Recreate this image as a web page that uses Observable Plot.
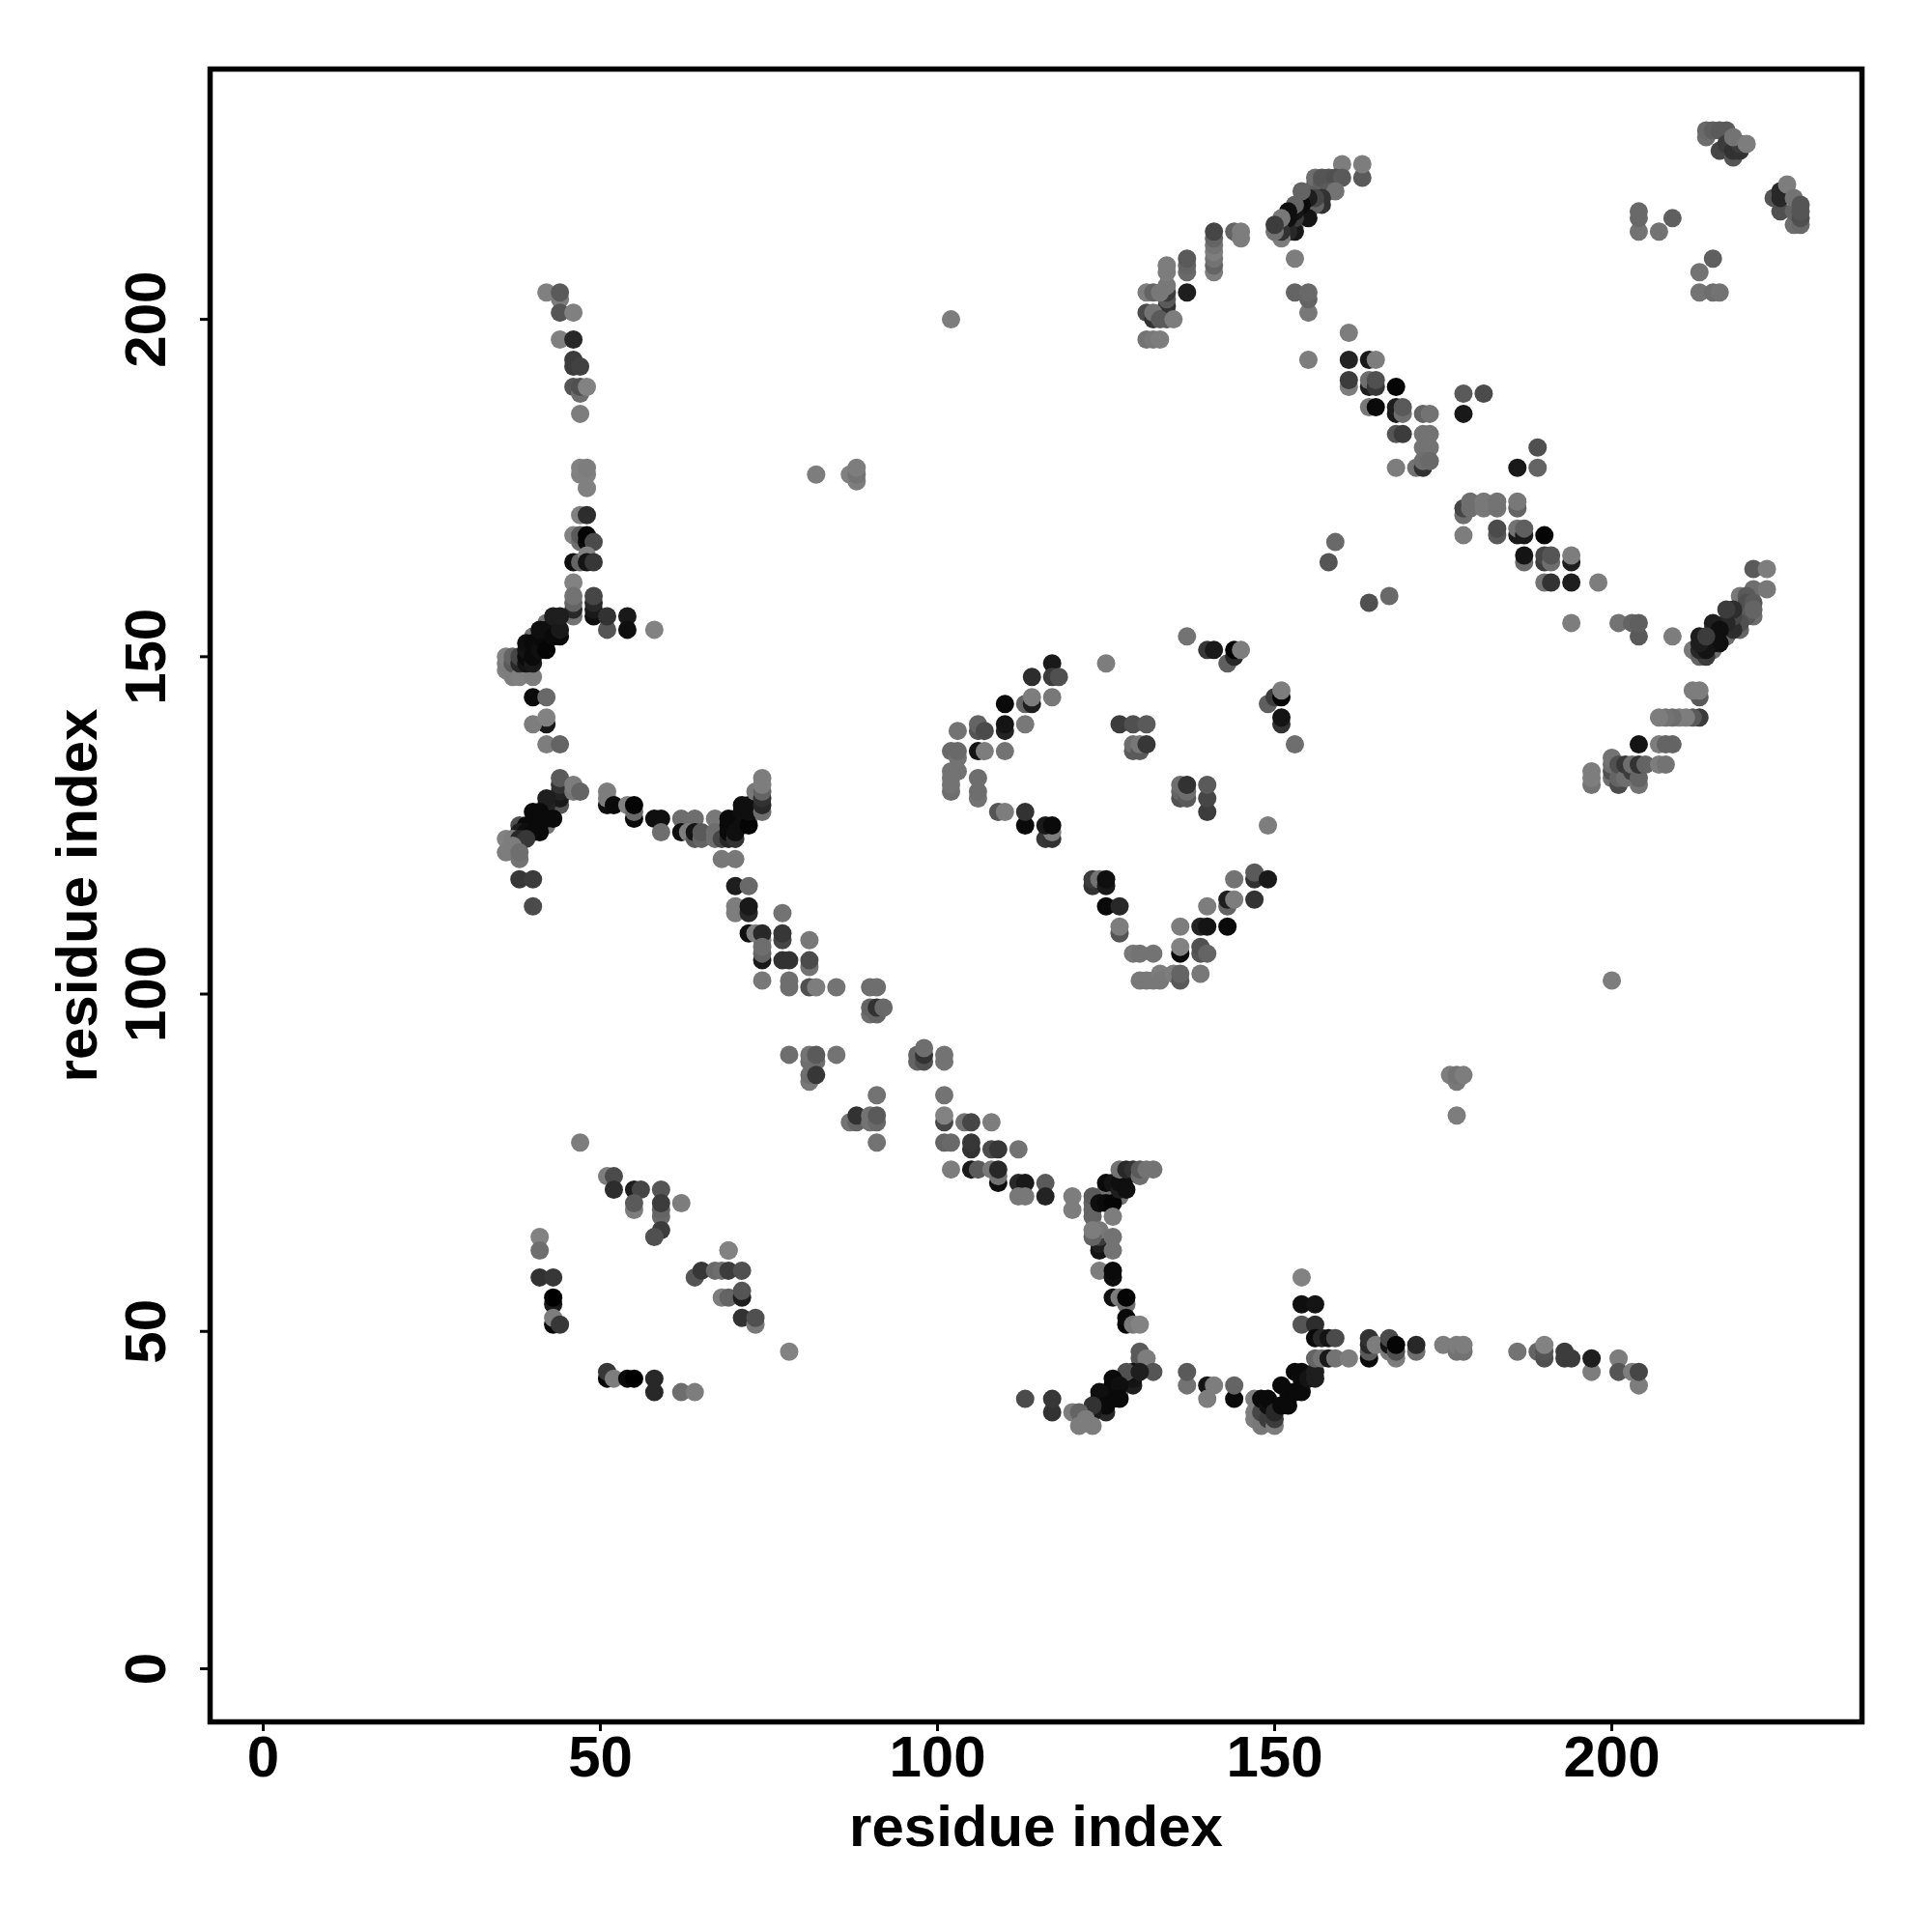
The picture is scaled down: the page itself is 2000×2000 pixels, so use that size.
<!DOCTYPE html>
<html><head><meta charset="utf-8">
<script src="https://cdn.jsdelivr.net/npm/d3@7"></script>
<script src="https://cdn.jsdelivr.net/npm/@observablehq/plot@0.6"></script>
<style>html,body{margin:0;padding:0;background:#fff}</style>
</head><body><div id="chart"></div>
<script>
// Each contact: [residue x, residue y, grey level]
const underlay = [[42,155,115],[42,153,115],[40,153,115],[40,151,115],[40,125,115],[42,127,115],[42,125,115],[70,126,115],[70,125,115],[72,126,115],[125,41,115],[127,41,115],[128,43,115],[124,39,115],[127,70,115],[125,71,115],[150,39,115],[152,40,115],[154,42,115],[214,152,115],[216,153,115],[153,214,115],[155,216,115],[155,217,115]];
const strandTop = [[42,204,128],[44,203,125],[44,204,90],[44,201,85],[46,201,128],[44,197,128],[46,197,40],[46,194,60],[46,193,60],[47,193,65],[46,190,85],[47,189,110],[47,190,80],[48,190,130],[47,186,125],[47,177,128],[47,178,130],[48,177,128],[48,178,125],[48,175,128],[82,177,125],[87,177,128],[88,176,125],[88,177,115],[88,178,125],[47,171,128],[48,171,45],[46,168,130],[47,167,110],[47,168,90],[48,167,10],[48,168,5],[49,167,75],[46,164,15],[47,164,100],[48,165,130],[48,164,20],[49,164,55],[46,161,130],[46,156,115],[46,157,40],[46,158,100],[46,159,115],[49,156,15],[49,157,25],[49,158,40],[49,159,70],[51,154,85],[51,156,50],[54,156,25],[54,154,15],[58,154,130]];
const bandUpperLeft = [[36,148,128],[36,149,125],[36,150,130],[37,147,125],[37,148,125],[37,149,90],[37,150,100],[38,147,128],[38,149,40],[38,150,70],[40,147,125],[39,149,20],[39,150,10],[39,151,20],[39,152,15],[40,149,25],[40,150,10],[40,152,10],[41,151,15],[41,153,10],[41,154,15],[42,151,5],[42,154,15],[43,153,10],[43,156,30],[44,153,10],[44,154,25],[44,156,30],[40,144,10],[42,144,105],[42,140,25],[40,140,125],[42,141,130],[42,137,125],[44,137,100]];
const bandMidLeft = [[44,128,85],[44,129,25],[44,130,35],[44,131,50],[44,132,90],[46,130,120],[46,131,125],[47,130,100],[42,128,35],[42,129,30],[40,127,10],[41,127,10],[41,126,10],[42,126,10],[43,126,10],[38,125,80],[39,125,10],[38,124,30],[39,124,15],[40,124,10],[41,124,10],[36,123,130],[37,123,125],[38,123,40],[39,123,55],[37,122,125],[36,121,125],[38,120,115],[38,121,110],[38,117,55],[40,117,60],[40,113,75]];
const bandMidRight = [[51,128,15],[51,129,125],[51,130,125],[52,128,10],[54,128,130],[55,126,10],[55,127,105],[55,128,5],[58,126,15],[59,126,15],[59,124,110],[62,126,110],[64,126,110],[62,124,15],[63,124,125],[64,123,90],[64,124,20],[65,123,100],[65,124,90],[67,126,120],[67,123,110],[67,124,110],[68,123,70],[69,123,40],[69,124,10],[69,125,10],[69,126,10],[70,123,50],[70,124,15],[71,125,15],[71,127,15],[71,128,15],[72,125,5],[72,127,15],[72,128,15],[73,130,120],[74,127,110],[74,128,40],[74,129,50],[74,130,100],[74,131,125],[74,132,125],[68,120,120],[70,120,120],[70,116,30],[72,116,105]];
const diagonalUpper = [[70,112,125],[70,113,125],[72,112,40],[72,113,25],[72,109,15],[73,109,125],[74,108,125],[74,109,40],[77,112,115],[77,108,70],[77,109,55],[81,108,120],[74,105,25],[74,106,100],[74,107,110],[77,105,50],[78,105,50],[81,104,115],[81,105,75],[74,102,120],[78,101,110],[78,102,110],[81,101,80],[82,101,125],[85,101,115],[90,101,110],[91,101,110],[90,97,110],[90,98,100],[91,97,100],[91,98,50],[92,98,105]];
const diagonalMiddle = [[78,91,110],[81,87,120],[81,88,110],[81,90,110],[81,91,115],[82,90,110],[82,91,90],[82,88,55],[85,91,115],[97,90,100],[97,91,100],[98,90,80],[98,91,50],[98,92,110],[101,90,115],[101,91,115],[91,85,115],[101,85,115],[87,81,115],[88,81,100],[88,82,50],[90,81,115],[90,82,115],[91,81,105],[91,82,90],[91,78,115],[101,81,70],[101,82,130],[104,81,115],[105,81,70],[108,81,125],[101,78,100],[102,78,105],[105,77,50],[105,78,55],[108,77,75],[109,77,55],[112,77,115],[102,74,125],[105,74,25],[106,74,90],[108,74,120],[109,72,15],[109,73,115],[109,74,40],[112,72,40],[113,72,25],[112,70,120],[113,70,120],[116,72,90],[116,70,35],[120,70,125],[120,68,125],[62,69,125],[69,62,125],[47,78,125]];
const sheetLowerLeft = [[51,73,125],[52,73,75],[52,71,45],[55,71,30],[56,71,70],[55,68,125],[55,69,90],[59,71,85],[59,67,105],[59,68,100],[59,69,60],[59,65,60],[58,64,80],[41,64,130],[41,62,110],[41,58,50],[43,58,55],[43,54,25],[43,55,0],[43,51,5],[43,52,125],[44,51,55],[69,62,130],[64,58,85],[65,59,55],[67,59,105],[68,59,110],[69,59,60],[71,59,80],[68,55,125],[69,55,100],[71,55,30],[71,56,85],[71,52,50],[73,51,120],[73,52,80],[78,47,130],[51,43,5],[51,44,55],[52,43,125],[54,43,10],[55,43,0],[58,43,40],[58,41,40],[62,41,110],[64,41,125]];
const helixLowerCenter = [[123,67,100],[123,68,100],[123,69,100],[123,70,90],[124,69,15],[124,62,20],[124,63,30],[124,64,60],[124,65,120],[123,64,100],[123,65,125],[125,69,10],[125,72,10],[126,69,5],[126,72,20],[126,67,125],[126,62,115],[126,64,115],[127,71,30],[127,72,15],[128,71,15],[128,73,15],[127,74,115],[128,74,40],[129,74,50],[130,73,110],[130,74,90],[131,74,115],[132,74,115],[124,59,125],[126,58,15],[126,59,10],[126,55,15],[127,55,125],[128,54,110],[128,55,5],[128,51,5],[128,52,10],[129,51,120],[130,51,130],[130,46,90],[130,47,90],[131,46,125],[132,44,85],[129,42,30],[129,43,20],[129,44,15],[128,44,80],[130,44,30],[126,42,10],[126,43,10],[127,42,15],[126,40,10],[127,40,10],[124,40,10],[124,41,15],[125,38,40],[125,39,10],[123,38,25],[123,39,50],[120,38,125],[121,38,100],[121,36,125],[122,37,125],[123,36,125],[113,40,75],[117,38,50],[117,40,55],[137,42,115],[137,44,90],[140,42,20],[140,40,125],[141,42,125],[144,40,10],[144,42,100]];
const helixLowerRight = [[147,37,125],[147,38,125],[147,40,125],[148,36,120],[148,38,70],[148,40,10],[149,37,60],[149,39,15],[149,40,10],[150,36,125],[150,37,60],[150,38,40],[151,39,10],[151,42,10],[152,39,10],[152,41,10],[153,41,10],[153,44,10],[154,41,10],[154,43,10],[154,44,10],[155,43,20],[156,43,30],[156,44,30],[154,58,130],[154,54,15],[156,54,20],[154,51,85],[156,51,45],[156,49,10],[157,49,40],[158,49,20],[159,49,75],[156,46,100],[157,46,115],[158,46,25],[159,46,115],[161,46,125],[164,46,10],[164,47,90],[164,48,40],[164,49,50],[165,48,125],[167,47,120],[167,48,20],[167,49,75],[168,46,125],[168,47,80],[168,48,5],[171,47,110],[171,48,40],[175,48,125],[177,47,115],[177,48,125],[178,47,115],[178,48,125],[186,47,115],[189,47,100],[190,46,80],[190,47,85],[190,48,130],[193,46,60],[193,47,60],[194,46,60],[197,44,125],[197,46,30],[201,46,125],[201,44,85],[203,44,125],[204,42,125],[204,44,70],[200,102,125],[102,200,125],[176,88,125],[177,87,120],[177,88,115],[178,88,125],[177,82,125]];
const ringCenter = [[137,153,115],[140,151,55],[141,151,25],[143,149,95],[144,150,40],[144,151,5],[145,151,125],[125,149,125],[117,149,25],[114,147,45],[117,147,60],[118,147,80],[117,144,120],[113,143,100],[114,143,30],[114,144,125],[110,143,10],[110,139,35],[110,140,20],[113,140,120],[106,139,85],[106,140,100],[107,139,75],[103,139,115],[102,136,105],[103,135,115],[103,136,105],[102,130,110],[102,131,115],[102,132,115],[102,133,115],[103,133,115],[106,136,20],[107,136,125],[110,136,115],[106,129,115],[106,130,110],[106,132,110],[109,127,85],[110,127,125],[113,125,10],[113,127,50],[116,123,55],[117,123,50],[117,124,125],[116,125,25],[117,125,10],[127,140,60],[129,140,80],[131,140,90],[129,136,90],[129,137,110],[130,136,90],[130,137,120],[131,137,55],[149,143,95],[150,144,60],[151,144,5],[151,145,125],[151,140,50],[151,141,20],[153,137,110],[136,129,80],[136,130,100],[136,131,110],[137,129,90],[137,130,110],[137,131,50],[140,127,60],[140,129,70],[140,131,90],[149,125,125],[123,116,50],[123,117,60],[124,117,115],[125,116,25],[125,117,15],[125,113,10],[127,113,40],[127,109,85],[127,110,125],[129,106,120],[130,106,115],[132,106,115],[130,102,120],[131,102,120],[132,102,120],[133,103,125],[133,102,120],[135,103,125],[136,102,90],[136,103,100],[139,103,120],[136,106,10],[136,107,130],[136,110,125],[139,110,35],[140,110,20],[143,110,10],[139,106,85],[139,107,80],[140,106,100],[140,113,125],[143,113,100],[143,114,30],[144,114,125],[144,117,115],[147,114,50],[147,117,50],[147,118,90],[149,117,25]];
const helixUpperCenter = [[160,223,125],[163,221,90],[163,223,125],[156,220,95],[156,221,110],[157,220,95],[157,221,85],[158,221,85],[159,221,80],[160,221,90],[158,219,90],[159,219,115],[157,217,50],[157,218,50],[156,217,100],[156,218,70],[155,215,20],[155,218,30],[154,217,10],[154,219,100],[153,213,25],[153,215,60],[153,216,20],[153,217,100],[152,213,40],[152,215,15],[152,216,15],[151,212,125],[151,213,50],[151,215,120],[150,213,115],[150,214,60],[153,209,125],[153,204,100],[155,201,120],[155,203,100],[155,204,105],[141,207,125],[141,208,100],[141,209,115],[141,210,125],[141,211,115],[141,212,100],[141,213,70],[144,213,100],[145,212,125],[145,213,125],[137,207,105],[137,208,100],[137,209,90],[137,204,30],[134,200,90],[134,201,110],[134,202,50],[134,203,90],[134,204,60],[134,205,120],[134,207,125],[134,208,125],[131,204,125],[132,204,100],[133,204,120],[131,201,75],[132,200,50],[132,201,115],[133,200,90],[135,200,125],[131,197,115],[132,197,120],[133,197,125]];
const diagonalTopRight = [[155,194,125],[161,198,125],[161,194,35],[164,194,25],[165,194,125],[161,190,125],[161,191,60],[164,190,30],[164,191,110],[165,190,55],[165,191,80],[168,190,5],[164,187,120],[165,187,10],[168,186,25],[168,187,30],[169,186,110],[169,187,90],[172,186,100],[173,186,115],[168,183,85],[169,183,60],[172,183,115],[173,183,115],[172,181,115],[173,181,115],[168,178,125],[171,178,115],[172,178,50],[172,179,110],[173,179,105],[178,189,90],[181,189,75],[178,186,25],[189,181,80],[186,178,25],[189,178,100],[178,171,110],[178,172,70],[179,172,110],[179,173,110],[181,172,120],[181,173,120],[183,172,115],[183,173,115],[186,172,100],[186,173,120],[178,168,125],[183,168,90],[183,169,75],[186,168,25],[186,169,115],[187,168,25],[187,169,95],[190,168,5],[187,164,105],[187,165,20],[190,164,60],[190,165,70],[191,164,110],[191,165,85],[194,164,30],[194,165,125],[190,161,115],[191,161,50],[194,161,30],[198,161,125],[159,167,105],[158,164,85],[167,159,105],[164,158,80],[194,155,125],[201,155,115],[203,155,100],[204,153,90],[204,155,95],[209,153,125]];
const helixRight = [[221,163,90],[223,163,125],[221,160,110],[223,160,120],[219,159,120],[220,159,90],[220,158,80],[221,158,90],[221,156,110],[220,156,90],[221,157,100],[219,154,100],[219,155,80],[217,153,110],[218,154,45],[218,156,70],[218,157,45],[217,155,40],[217,157,60],[215,151,110],[215,152,15],[215,154,40],[215,155,30],[216,152,15],[216,154,15],[212,151,120],[213,150,100],[214,150,60],[213,151,40],[214,151,20],[213,152,30],[213,153,30],[214,153,60],[213,144,90],[212,145,125],[213,145,125],[213,141,60],[212,141,90],[211,141,125],[210,141,125],[209,141,110],[208,141,115],[207,141,125],[204,137,20],[207,137,125],[208,137,100],[209,137,100],[197,131,115],[197,132,125],[197,133,125],[200,132,110],[200,133,80],[200,134,110],[200,135,115],[201,131,75],[201,132,100],[201,134,80],[202,132,110],[202,134,55],[203,133,60],[203,134,110],[204,131,115],[204,132,100],[204,134,50],[205,134,100],[207,134,125],[208,134,115]];
const cornerTopRight = [[204,213,115],[204,215,105],[204,216,105],[207,213,115],[209,215,95],[215,209,95],[213,207,115],[213,204,115],[215,204,110],[216,204,115],[214,227,110],[214,228,105],[215,228,95],[216,228,90],[217,228,90],[216,225,70],[217,226,60],[218,224,85],[218,225,50],[219,225,50],[219,226,60],[218,227,115],[220,226,125],[224,218,85],[225,216,80],[225,218,40],[225,219,40],[226,220,125],[227,214,110],[227,216,100],[227,218,115],[228,214,105],[228,215,80],[228,216,85],[228,217,85]];
const tickValues = [0, 50, 100, 150, 200];
const axisLabel = "residue index";

const groups = [underlay, strandTop, bandUpperLeft, bandMidLeft, bandMidRight, diagonalUpper, diagonalMiddle, sheetLowerLeft, helixLowerCenter, helixLowerRight, ringCenter, helixUpperCenter, diagonalTopRight, helixRight, cornerTopRight];
const contacts = groups.flat().map(([x, y, shade]) => ({x, y, shade}));

const plot = Plot.plot({
  width: 2000, height: 2000,
  marginLeft: 217, marginRight: 73, marginTop: 71, marginBottom: 218,
  style: {fontFamily: "'Liberation Sans', Arial, sans-serif", fontWeight: "bold", background: "#fff"},
  x: {domain: [-7.88, 237.1]},
  y: {domain: [-7.88, 237.1]},
  color: {type: "linear", domain: [0, 255], range: ["#000", "#fff"]},
  marks: [
    Plot.dot(contacts, {x: "x", y: "y", r: 9.5, fill: "shade", stroke: "none"}),
    Plot.frame({stroke: "#000", strokeWidth: 5.5}),
    Plot.axisX({ticks: tickValues, tickSize: 10, tickPadding: 4, strokeWidth: 3, fontSize: 60, fontWeight: "bold", fill: "#000", tickFormat: d => d, label: axisLabel, labelAnchor: "center", labelArrow: "none", labelOffset: 128}),
    Plot.axisY({ticks: tickValues, tickSize: 10, tickPadding: 37, strokeWidth: 3, fontSize: 60, fontWeight: "bold", fill: "#000", tickRotate: -90, textAnchor: "middle", tickFormat: d => d, label: axisLabel, labelAnchor: "center", labelArrow: "none", labelOffset: 160})
  ]
});
document.getElementById("chart").appendChild(plot);
</script></body></html>
